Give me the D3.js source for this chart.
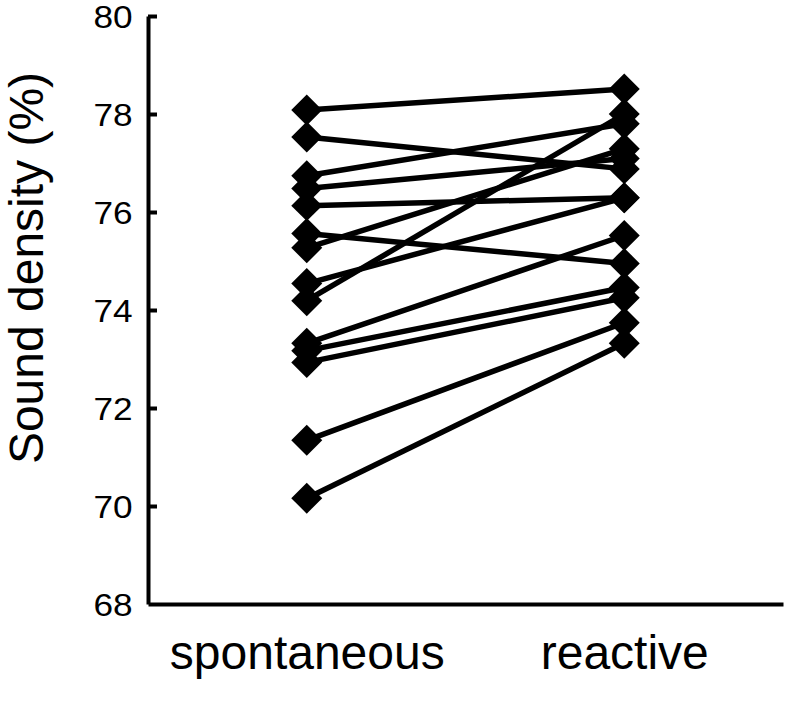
<!DOCTYPE html>
<html>
<head>
<meta charset="utf-8">
<script src="https://cdn.jsdelivr.net/npm/d3@7"></script>
<style>
  body { margin: 0; background: #fff; }
  text { font-family: "Liberation Sans", Arial, sans-serif; fill: #000; }
</style>
</head>
<body>
<div id="container"></div>
<script>
// conditions on the x axis
let conditions = ["spontaneous", "reactive"];

// one entry per subject (sound density, %)
let spontaneous = [78.08, 77.53, 76.74, 76.48, 76.13, 75.56, 75.27, 74.54, 74.19, 73.32, 73.17, 72.93, 71.34, 70.16];
let reactive    = [78.51, 76.88, 77.80, 77.09, 76.29, 74.95, 77.29, 76.29, 78.00, 75.52, 74.46, 74.25, 73.74, 73.32];

let yTicks = [68, 70, 72, 74, 76, 78, 80];

//Width and height
let w = 786;
let h = 710;

let svg = d3.select("#container")
  .append("svg")
  .attr("width", w)
  .attr("height", h);

// scales
let x = d3.scalePoint()
  .domain(conditions)
  .range([148, 783])
  .padding(0.5);

let y = d3.scaleLinear()
  .domain([68, 80])
  .range([604, 16]);

// y axis, ticks pointing inward
let yAxis = svg.append("g")
  .attr("transform", "translate(148,0)")
  .call(d3.axisLeft(y).tickValues(yTicks).tickSize(-9).tickSizeOuter(0).tickPadding(14));

yAxis.select(".domain").attr("stroke-width", 4);
yAxis.selectAll(".tick line").attr("stroke-width", 4);
yAxis.selectAll(".tick text")
  .style("font-size", "32px")
  .attr("dy", "0.36em")
  .attr("transform", "scale(1.1,1)");
yAxis.selectAll(".tick").filter(d => d == 68).select("line").remove();

// x axis
let xAxis = svg.append("g")
  .attr("transform", "translate(0,604)")
  .call(d3.axisBottom(x).tickSize(0).tickSizeOuter(0).tickPadding(31));

xAxis.select(".domain").attr("stroke-width", 4);
xAxis.selectAll(".tick text")
  .style("font-size", "48px")
  .attr("dy", "0.71em");

// y title
svg.append("text")
  .attr("transform", "translate(43,268) rotate(-90)")
  .attr("text-anchor", "middle")
  .style("font-size", "48px")
  .text("Sound density (%)");

// subject data
let pairs = spontaneous.map((s, i) => ({ s: s, r: reactive[i] }));

let lineG = svg.append("g");
lineG.selectAll("line")
  .data(pairs)
  .enter()
  .append("line")
    .attr("x1", x("spontaneous"))
    .attr("x2", x("reactive"))
    .attr("y1", d => y(d.s))
    .attr("y2", d => y(d.r))
    .attr("stroke", "#000")
    .attr("stroke-width", 5.5);

let diamond = d3.symbol().type(d3.symbolSquare).size(480);

let pts = [];
pairs.forEach(d => {
  pts.push({ c: "spontaneous", v: d.s });
  pts.push({ c: "reactive", v: d.r });
});

svg.append("g").selectAll("path")
  .data(pts)
  .enter()
  .append("path")
    .attr("d", diamond)
    .attr("transform", d => "translate(" + x(d.c) + "," + y(d.v) + ") rotate(45)")
    .attr("fill", "#000");
</script>
</body>
</html>
